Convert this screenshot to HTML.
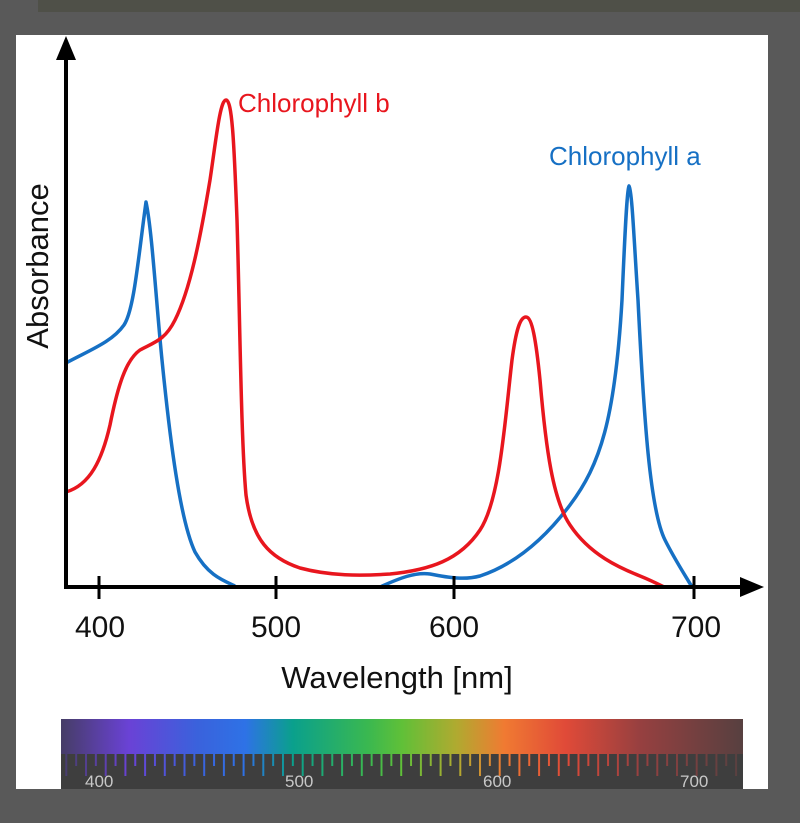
<!DOCTYPE html>
<html><head><meta charset="utf-8"><style>
html,body{margin:0;padding:0;background:#595959;width:800px;height:823px;overflow:hidden}
svg{display:block}
</style></head><body>
<svg width="800" height="823" viewBox="0 0 800 823" xmlns="http://www.w3.org/2000/svg">
<defs>
<linearGradient id="spec" gradientUnits="userSpaceOnUse" x1="61" y1="0" x2="743" y2="0">
<stop offset="0" stop-color="#463d66"/>
<stop offset="0.1" stop-color="#6a42d6"/>
<stop offset="0.2" stop-color="#3a62dc"/>
<stop offset="0.27" stop-color="#2e72e6"/>
<stop offset="0.34" stop-color="#0aa08c"/>
<stop offset="0.45" stop-color="#3ab850"/>
<stop offset="0.5" stop-color="#60c038"/>
<stop offset="0.58" stop-color="#b0aa30"/>
<stop offset="0.65" stop-color="#f07a32"/>
<stop offset="0.74" stop-color="#e04a38"/>
<stop offset="0.85" stop-color="#964040"/>
<stop offset="1" stop-color="#574040"/>
</linearGradient>
<pattern id="tk" patternUnits="userSpaceOnUse" x="85" y="754" width="19.7" height="40">
<rect x="0" y="0" width="2" height="22" fill="#fff"/>
<rect x="9.85" y="0" width="2" height="12" fill="#fff"/>
</pattern>
<mask id="tm"><rect x="61" y="754" width="682" height="35" fill="url(#tk)"/></mask>
</defs>
<rect x="38" y="0" width="762" height="12" fill="#4f5048"/>
<rect x="16" y="35" width="752" height="754" fill="#fff"/>
<rect x="61" y="719" width="682" height="36" fill="url(#spec)"/>
<rect x="61" y="754" width="682" height="35" fill="#3e3e3e"/>
<rect x="61" y="754" width="682" height="35" fill="url(#spec)" mask="url(#tm)"/>
<g font-family="Liberation Sans, sans-serif" font-size="17" fill="#c8c8c8">
<text x="85" y="787">400</text><text x="285" y="787">500</text><text x="483" y="787">600</text><text x="680" y="787">700</text>
</g>
<path fill="none" stroke="#1670c4" stroke-width="3.5" stroke-linejoin="round" d="M66,363 C90,350 112,342 124,325 C134,310 138,260 146,202 C152,230 156,300 162,360 C170,440 180,520 195,552 C208,575 222,580 235,586"/>
<path fill="none" stroke="#1670c4" stroke-width="3.5" stroke-linejoin="round" d="M380,587 C400,578 415,572 430,574 C450,578 465,580 480,576 C510,566 540,545 570,505 C600,465 615,420 622,300 C625,230 627,190 629,186 C632,190 634,240 638,300 C644,420 650,510 665,540 C675,560 685,575 692,587"/>
<path fill="none" stroke="#e8161e" stroke-width="3.5" stroke-linejoin="round" d="M66,492 C90,485 102,460 110,425 C118,385 126,360 140,350 C155,342 165,340 175,320 C190,290 200,240 210,180 C216,140 220,100 226,100 C232,100 234,140 237,220 C240,320 241,440 246,495 C252,540 270,558 300,568 C330,576 360,576 390,574 C430,570 460,560 480,530 C500,500 505,420 512,360 C516,330 520,317 526,317 C532,317 536,340 540,380 C546,450 553,500 570,525 C590,555 620,568 640,576 C650,580 658,584 664,587"/>
<line x1="66" y1="58" x2="66" y2="589" stroke="#000" stroke-width="4"/>
<polygon points="66,36 56,60 76,60" fill="#000"/>
<line x1="64" y1="587" x2="742" y2="587" stroke="#000" stroke-width="4"/>
<polygon points="764,587 740,577 740,597" fill="#000"/>
<g stroke="#000" stroke-width="3">
<line x1="99" y1="576" x2="99" y2="599"/><line x1="276" y1="576" x2="276" y2="599"/>
<line x1="454" y1="576" x2="454" y2="599"/><line x1="694" y1="576" x2="694" y2="599"/>
</g>
<g font-family="Liberation Sans, sans-serif" font-size="30" fill="#111" text-anchor="middle">
<text x="100" y="637">400</text><text x="276" y="637">500</text><text x="454" y="637">600</text><text x="696" y="637">700</text>
<text x="397" y="688" font-size="31">Wavelength [nm]</text>
<text transform="translate(48,266) rotate(-90)" font-size="31">Absorbance</text>
</g>
<text x="238" y="112" font-family="Liberation Sans, sans-serif" font-size="26" fill="#e8161e">Chlorophyll b</text>
<text x="549" y="165" font-family="Liberation Sans, sans-serif" font-size="26" fill="#1670c4">Chlorophyll a</text>
</svg>
</body></html>
